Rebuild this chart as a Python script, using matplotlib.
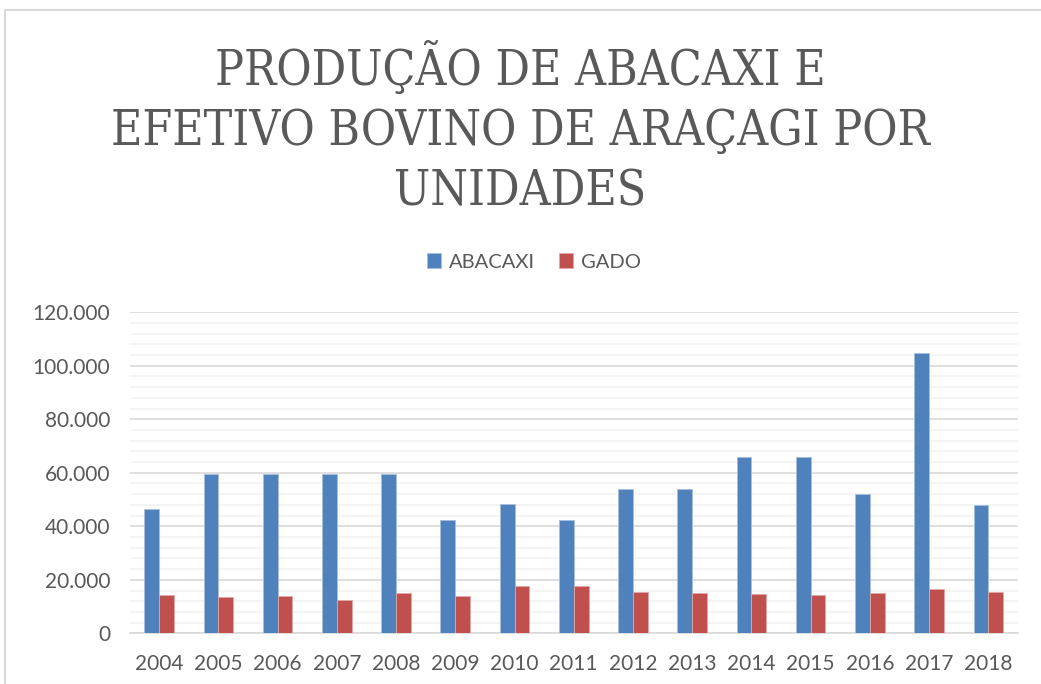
import matplotlib
matplotlib.use("Agg")
import matplotlib.pyplot as plt
import numpy as np
from matplotlib.ticker import MultipleLocator, FuncFormatter
from matplotlib.patches import Rectangle

years = ["2004", "2005", "2006", "2007", "2008", "2009", "2010", "2011",
         "2012", "2013", "2014", "2015", "2016", "2017", "2018"]
abacaxi = [46400, 59400, 59400, 59400, 59400, 42500, 48500, 42500,
           54000, 54000, 66000, 66000, 52200, 104900, 48100]
gado = [14500, 13600, 13900, 12500, 15000, 13900, 17500, 17700,
        15500, 15000, 14700, 14500, 15200, 16500, 15500]
series_names = ["ABACAXI", "GADO"]
title_text = "PRODUÇÃO DE ABACAXI E\nEFETIVO BOVINO DE ARAÇAGI POR\nUNIDADES"

W, H = 1041, 684
fig = plt.figure(figsize=(W / 100, H / 100), dpi=100)
fig.patch.set_facecolor("white")

fig.add_artist(Rectangle((5 / W, 1 - 685 / H), 1100 / W, 675 / H,
                         transform=fig.transFigure, fill=False,
                         edgecolor="#D9D9D9", linewidth=1.5, clip_on=False))

ax = fig.add_axes([129.5 / W, (H - 633.3) / H, (1018 - 129.5) / W, 321 / H])

x = np.arange(len(years))
bw = 0.25
blue = "#4F81BD"
red = "#C0504D"
ax.bar(x - bw / 2, abacaxi, bw, color=blue, label=series_names[0], zorder=3,
       edgecolor="#A7BFDE", linewidth=0.6)
ax.bar(x + bw / 2, gado, bw, color=red, label=series_names[1], zorder=3,
       edgecolor="#E0A8A7", linewidth=0.6)

ax.set_xlim(-0.5, len(years) - 0.5)
ax.set_ylim(0, 120000)
ax.yaxis.set_major_locator(MultipleLocator(20000))
ax.yaxis.set_minor_locator(MultipleLocator(4000))
ax.yaxis.set_major_formatter(FuncFormatter(lambda v, p: f"{int(v):,}".replace(",", ".")))
ax.grid(axis="y", which="major", color="#D9D9D9", linewidth=1.2, zorder=0)
ax.grid(axis="y", which="minor", color="#F2F2F2", linewidth=1.2, zorder=0)
ax.set_axisbelow(True)

for s in ["top", "right", "left"]:
    ax.spines[s].set_visible(False)
ax.spines["bottom"].set_color("#D9D9D9")
ax.spines["bottom"].set_linewidth(1.2)

ax.set_xticks(x)
ax.set_xticklabels(years)
ax.tick_params(axis="both", which="both", length=0, labelcolor="#595959",
               labelsize=15)
ax.tick_params(axis="y", pad=14)
ax.tick_params(axis="x", pad=15)
for lab in ax.get_xticklabels() + ax.get_yticklabels():
    lab.set_family("Lato")

fig.text(0.5, 1 - 128 / H, title_text, ha="center", va="center",
         fontsize=34.5, color="#595959", family="DejaVu Serif",
         fontstretch="condensed", linespacing=1.36)

leg = fig.legend(loc="center", bbox_to_anchor=(534 / W, 1 - 262 / H), ncol=2,
                 frameon=False, prop={"family": "Lato", "size": 14.5},
                 handlelength=0.7, handleheight=0.7, handletextpad=0.4,
                 columnspacing=1.2)
for t in leg.get_texts():
    t.set_color("#595959")

fig.savefig("out.png", dpi=100, facecolor="white")
